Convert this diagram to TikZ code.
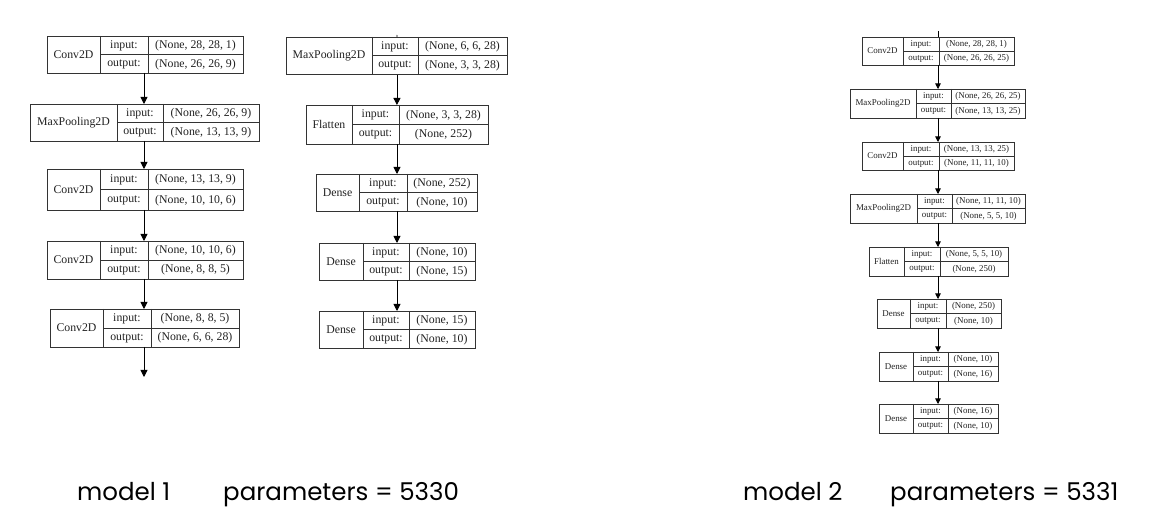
\documentclass[tikz,border=0pt]{standalone}
\usepackage{fontspec}
\setmainfont{Liberation Serif}
\newfontfamily\capfont{Poppins}
\usetikzlibrary{arrows.meta}
\definecolor{ln}{HTML}{333333}
\definecolor{tx}{HTML}{222222}
\tikzset{
  cell/.style={draw=ln, line width=0.9pt, inner sep=0pt, rectangle},
  grid/.style={draw=ln, line width=0.9pt},
  txt/.style={text=tx, inner sep=0pt, anchor=center},
  big/.style={font=\fontsize{11.8}{12}\selectfont},
  small/.style={font=\fontsize{8.9}{9}\selectfont},
  flow/.style={draw=black, line width=0.9pt, -{Triangle[length=7pt,width=7pt]}},
  flowsm/.style={draw=black, line width=0.8pt, -{Triangle[length=5.5pt,width=5.5pt]}},
  tick/.style={draw=black, line width=0.8pt},
  caption/.style={font=\capfont\fontsize{24.5}{25}\selectfont, text=black, inner sep=0pt, anchor=base west}
}
\def\setx#1#2#3#4{\def\bxL{#1}\def\bxP{#2}\def\bxQ{#3}\def\bxR{#4}}
\def\sety#1#2{\def\bxT{#1}\def\bxU{#2}}
\newcommand\layer[4]{%
  \pgfmathsetmacro\bxM{(\bxT+\bxU)/2}%
  \pgfmathsetmacro\bxW{\bxR-\bxL}%
  \pgfmathsetmacro\bxH{\bxU-\bxT}%
  \node[cell, minimum width=\bxW pt, minimum height=\bxH pt, anchor=north west] (#1) at (\bxL,\bxT) {};
  \draw[grid] (\bxP,\bxT) -- (\bxP,\bxU) (\bxQ,\bxT) -- (\bxQ,\bxU) (\bxP,\bxM) -- (\bxR,\bxM);
  \node[txt] (#1-name) at ({(\bxL+\bxP)/2},\bxM) {#2};
  \node[txt] (#1-inl) at ({(\bxP+\bxQ)/2},{(\bxT+\bxM)/2+0.5}) {input:};
  \node[txt] (#1-outl) at ({(\bxP+\bxQ)/2},{(\bxM+\bxU)/2+0.5}) {output:};
  \node[txt] (#1-in) at ({(\bxQ+\bxR)/2},{(\bxT+\bxM)/2+0.5}) {#3};
  \node[txt] (#1-out) at ({(\bxQ+\bxR)/2},{(\bxM+\bxU)/2+0.5}) {#4};
}
\begin{document}
\begin{tikzpicture}[x=1pt,y=-1pt]
\useasboundingbox[fill=white] (0,0) rectangle (1160,529);

% ---------- model 1, first column ----------
\begin{scope}[big]
\setx{47}{100}{148}{243}\sety{36}{73}
\layer{a1}{Conv2D}{(None, 28, 28, 1)}{(None, 26, 26, 9)}
\setx{30}{117}{163}{259}\sety{104}{141}
\layer{a2}{MaxPooling2D}{(None, 26, 26, 9)}{(None, 13, 13, 9)}
\setx{47}{100}{148}{243}\sety{169}{210}
\layer{a3}{Conv2D}{(None, 13, 13, 9)}{(None, 10, 10, 6)}
\setx{47}{100}{148}{243}\sety{241}{279}
\layer{a4}{Conv2D}{(None, 10, 10, 6)}{(None, 8, 8, 5)}
\setx{50}{103}{151}{239}\sety{309}{347}
\layer{a5}{Conv2D}{(None, 8, 8, 5)}{(None, 6, 6, 28)}
\coordinate (aend) at (144,377);

% ---------- model 1, second column ----------
\coordinate (btop) at (397,35);
\setx{286}{372}{418}{507}\sety{37}{74}
\layer{b1}{MaxPooling2D}{(None, 6, 6, 28)}{(None, 3, 3, 28)}
\setx{306}{352}{399}{488}\sety{105}{144}
\layer{b2}{Flatten}{(None, 3, 3, 28)}{(None, 252)}
\setx{316}{359}{407}{477}\sety{174}{211}
\layer{b3}{Dense}{(None, 252)}{(None, 10)}
\setx{319}{363}{409}{475}\sety{243}{280}
\layer{b4}{Dense}{(None, 10)}{(None, 15)}
\setx{319}{363}{409}{475}\sety{311}{348}
\layer{b5}{Dense}{(None, 15)}{(None, 10)}
\end{scope}

\draw[flow] (144,73) -- (144,104);
\draw[flow] (144,141) -- (144,169);
\draw[flow] (144,210) -- (144,241);
\draw[flow] (144,279) -- (144,309);
\draw[flow] (144,347) -- (aend);
\draw[tick] (btop) -- (b1.north);
\draw[flow] (b1.south) -- (b2.north -| b1.south);
\draw[flow] (397,144) -- (397,174);
\draw[flow] (397,211) -- (397,243);
\draw[flow] (397,280) -- (397,311);

% ---------- model 2 ----------
\begin{scope}[small]
\coordinate (ctop) at (938,31);
\setx{862}{903}{939}{1014}\sety{37}{65}
\layer{c1}{Conv2D}{(None, 28, 28, 1)}{(None, 26, 26, 25)}
\setx{850}{916}{951}{1025}\sety{89}{118}
\layer{c2}{MaxPooling2D}{(None, 26, 26, 25)}{(None, 13, 13, 25)}
\setx{862}{903}{939}{1014}\sety{142}{170}
\layer{c3}{Conv2D}{(None, 13, 13, 25)}{(None, 11, 11, 10)}
\setx{850}{917}{952}{1025}\sety{194}{223}
\layer{c4}{MaxPooling2D}{(None, 11, 11, 10)}{(None, 5, 5, 10)}
\setx{869}{904}{940}{1008}\sety{247}{276}
\layer{c5}{Flatten}{(None, 5, 5, 10)}{(None, 250)}
\setx{877}{910}{946}{1001}\sety{299}{328}
\layer{c6}{Dense}{(None, 250)}{(None, 10)}
\setx{879}{913}{948}{998}\sety{352}{381}
\layer{c7}{Dense}{(None, 10)}{(None, 16)}
\setx{879}{913}{948}{998}\sety{404}{433}
\layer{c8}{Dense}{(None, 16)}{(None, 10)}
\end{scope}

\draw[tick] (ctop) -- (938,37);
\draw[flowsm] (938,65) -- (938,89);
\draw[flowsm] (938,118) -- (938,142);
\draw[flowsm] (938,170) -- (938,194);
\draw[flowsm] (938,223) -- (938,247);
\draw[flowsm] (938,276) -- (938,299);
\draw[flowsm] (938,328) -- (938,352);
\draw[flowsm] (938,381) -- (938,404);

% ---------- captions ----------
\node[caption] (m1) at (77,500) {model 1};
\node[caption] (p1) at (223,500) {parameters = 5330};
\node[caption] (m2) at (743,500) {model 2};
\node[caption] (p2) at (890,500) {parameters = 5331};
\end{tikzpicture}
\end{document}
